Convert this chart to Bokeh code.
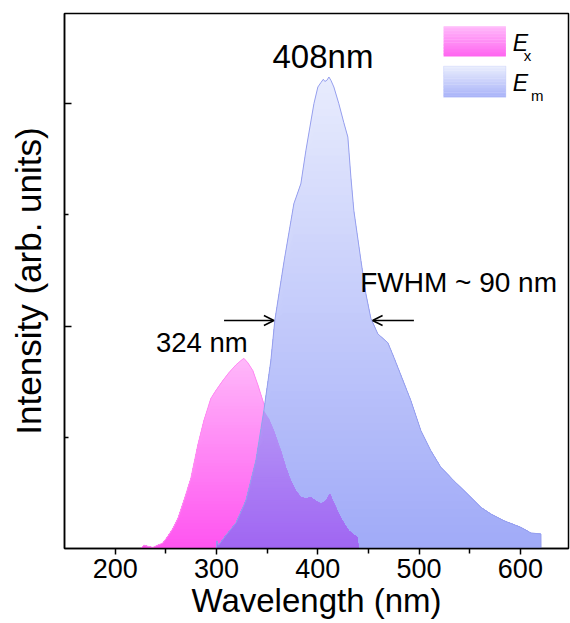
import numpy as np
from bokeh.plotting import figure
from bokeh.models import (Range1d, FixedTicker, Label, Arrow, OpenHead, BoxAnnotation,
                          CustomJSTickFormatter)
from bokeh.embed import file_html
from bokeh.resources import INLINE

# ---------------- data ----------------
ex_wavelength = [225.3, 228.3, 232.2, 237.2, 242.1, 247.1, 252.0, 257.0, 261.9, 267.8,
                 274.7, 281.6, 287.6, 294.5, 299.4, 306.3, 312.2, 319.1, 324.1, 327.1,
                 331.0, 335.9, 340.9, 346.8, 351.7, 356.6, 363.6, 368.5, 373.4, 378.4,
                 383.3, 388.3, 393.2, 398.1, 403.1, 408.0, 412.0, 415.9, 420.8, 425.7,
                 430.7, 434.6, 439.5, 440.0]
ex_intensity = [0.0, 0.03, 0.02, 0.01, 0.03, 0.05, 0.11, 0.18, 0.27, 0.43,
                0.63, 0.93, 1.15, 1.35, 1.42, 1.51, 1.58, 1.65, 1.69, 1.71,
                1.67, 1.60, 1.47, 1.30, 1.17, 1.06, 0.88, 0.73, 0.61, 0.52,
                0.46, 0.45, 0.46, 0.43, 0.40, 0.43, 0.49, 0.41, 0.31, 0.23,
                0.16, 0.13, 0.10, 0.0]

em_wavelength = [300.0, 300.4, 302.0, 309.4, 319.2, 329.0, 338.9, 346.8, 353.7, 357.6,
                 366.5, 376.4, 383.3, 388.3, 396.2, 400.1, 403.1, 405.5, 407.0, 409.0,
                 411.0, 413.0, 415.9, 420.8, 425.7, 429.7, 432.7, 435.6, 442.6, 447.5,
                 452.4, 459.3, 469.2, 475.1, 482.0, 491.9, 501.8, 511.6, 521.5, 534.3,
                 551.1, 561.0, 570.9, 583.7, 600.5, 610.4, 620.3, 620.4]
em_intensity = [0.0, 0.07, 0.03, 0.12, 0.23, 0.43, 0.79, 1.24, 1.69, 2.05,
                2.57, 3.10, 3.28, 3.58, 4.00, 4.15, 4.19, 4.22, 4.20, 4.21,
                4.24, 4.21, 4.15, 4.00, 3.83, 3.70, 3.34, 3.04, 2.59, 2.29,
                2.07, 1.93, 1.85, 1.72, 1.56, 1.33, 1.06, 0.88, 0.73, 0.61,
                0.46, 0.37, 0.31, 0.25, 0.19, 0.14, 0.13, 0.0]

x_ticks = [200, 300, 400, 500, 600]
x_minor = [250, 350, 450, 550]
y_major = [2, 4]
y_minor = [1, 3]

FONT = "Liberation Sans"

p = figure(width=570, height=623, output_backend="svg", toolbar_location=None,
           x_range=Range1d(150, 647.5), y_range=Range1d(0, 4.811),
           min_border_left=64, min_border_right=2, min_border_top=13, min_border_bottom=75)
p.title.visible = False
p.grid.visible = False
p.background_fill_color = "white"
p.border_fill_color = "white"
p.outline_line_color = "black"
p.outline_line_width = 1.5

ex_x = np.array(ex_wavelength); ex_y = np.array(ex_intensity)
em_x = np.array(em_wavelength); em_y = np.array(em_intensity)


def lerp(c0, c1, t):
    return "#%02x%02x%02x" % tuple(int(round(a + (b - a) * t)) for a, b in zip(c0, c1))


def grad_fill(x, y, cfun, n=60):
    top = float(np.max(y))
    edges = np.linspace(0, top, n + 1)
    for k in range(n - 1, -1, -1):
        upper = y if k == n - 1 else np.minimum(y, edges[k + 1])
        p.varea(x=x, y1=np.zeros_like(y), y2=upper, fill_color=cfun((k + 0.5) / n * top),
                fill_alpha=1.0)


EX_BOT, EX_TOP = (255, 84, 240), (255, 184, 250)
EM_BOT, EM_TOP = (160, 170, 248), (232, 236, 253)
ex_top = ex_y.max(); em_top = em_y.max()


def ex_col(h):
    return lerp(EX_BOT, EX_TOP, min(h / ex_top, 1))


def em_col(h):
    return lerp(EM_BOT, EM_TOP, min(h / em_top, 1))


def ov_col(h):
    e = [a + (b - a) * min(h / em_top, 1) for a, b in zip(EM_BOT, EM_TOP)]
    x = [a + (b - a) * min(h / ex_top, 1) for a, b in zip(EX_BOT, EX_TOP)]
    return "#%02x%02x%02x" % tuple(int(round(max(0, min(255, ei + 0.4 * (xi - 255))))) for ei, xi in zip(e, x))


# Ex fill
grad_fill(ex_x, ex_y, ex_col)
p.line(ex_x, ex_y, line_color="#ff8af2", line_width=1)
# Em fill
grad_fill(em_x, em_y, em_col)
# overlap region
xs = np.union1d(ex_x, em_x)
xs = xs[(xs >= em_x[0]) & (xs <= ex_x[-1])]
ov = np.minimum(np.interp(xs, ex_x, ex_y), np.interp(xs, em_x, em_y))
grad_fill(xs, ov, ov_col)
p.line(em_x, em_y, line_color="#969fee", line_width=1)

# axes
xa = p.xaxis[0]
xa.ticker = FixedTicker(ticks=x_ticks, minor_ticks=x_minor)
xa.axis_label = "Wavelength (nm)"
xa.axis_label_text_font = FONT
xa.axis_label_text_font_style = "normal"
xa.axis_label_text_font_size = "33px"
xa.axis_label_text_color = "black"
xa.axis_label_standoff = 1
xa.major_label_text_font = FONT
xa.major_label_text_font_size = "27px"
xa.major_label_text_color = "black"
xa.major_label_standoff = 4
xa.major_tick_out = 6
xa.major_tick_in = 0
xa.minor_tick_out = 5
xa.minor_tick_in = 0
xa.axis_line_width = 1.5
xa.major_tick_line_width = 1.5
xa.minor_tick_line_width = 1.5

ya = p.yaxis[0]
ya.ticker = FixedTicker(ticks=y_major, minor_ticks=y_minor)
ya.formatter = CustomJSTickFormatter(code="return ''")
ya.axis_label = "Intensity (arb. units)"
ya.axis_label_text_font = FONT
ya.axis_label_text_font_style = "normal"
ya.axis_label_text_font_size = "35px"
ya.axis_label_text_color = "black"
ya.axis_label_standoff = 17
ya.major_label_standoff = 0
ya.major_tick_in = 7
ya.major_tick_out = 0
ya.minor_tick_in = 4
ya.minor_tick_out = 0
ya.axis_line_width = 1.5
ya.major_tick_line_width = 1.5
ya.minor_tick_line_width = 1.5

# annotations
p.add_layout(Label(x=405.1, y=4.425, text="408nm", text_align="center", text_baseline="alphabetic",
                   text_font=FONT, text_font_size="33px", text_color="black"))
p.add_layout(Label(x=240.3, y=1.850, text="324 nm", text_baseline="alphabetic", text_font=FONT,
                   text_font_size="27.5px", text_color="black"))
p.add_layout(Label(x=441.9, y=2.389, text="FWHM ~ 90 nm", text_baseline="alphabetic", text_font=FONT,
                   text_font_size="28px", text_color="black"))
p.add_layout(Arrow(x_start=307.5, y_start=2.05, x_end=356.7, y_end=2.05, line_width=1.5,
                   end=OpenHead(size=10, line_width=1.5)))
p.add_layout(Arrow(x_start=494.9, y_start=2.05, x_end=454.1, y_end=2.05, line_width=1.5,
                   end=OpenHead(size=10, line_width=1.5)))

# legend (manual, gradient swatches)
def swatch(x0, x1, y0, y1, c_bot, c_top, border=None, n=20):
    edges = np.linspace(y0, y1, n + 1)
    for k in range(n):
        p.add_layout(BoxAnnotation(left=x0, right=x1, bottom=edges[k], top=edges[k + 1] + (0 if k == n - 1 else 0.004),
                                   fill_color=lerp(c_bot, c_top, (k + 0.5) / n), fill_alpha=1,
                                   line_color=None))
    if border:
        p.add_layout(BoxAnnotation(left=x0, right=x1, bottom=y0, top=y1, fill_color=None,
                                   line_color=border, line_width=1))


swatch(524.2, 585.7, 4.424, 4.697, (255, 100, 240), (255, 186, 250))
swatch(524.2, 585.7, 4.058, 4.337, (168, 178, 248), (234, 238, 253), border="#b4bef8")
p.add_layout(Label(x=592.5, y=4.545, text="E", text_baseline="alphabetic", text_font=FONT,
                   text_font_style="italic", text_font_size="23px", text_color="black"))
p.add_layout(Label(x=603.4, y=4.437, text="x", text_baseline="alphabetic", text_font=FONT,
                   text_font_size="15px", text_color="black"))
p.add_layout(Label(x=592.5, y=4.186, text="E", text_baseline="alphabetic", text_font=FONT,
                   text_font_style="italic", text_font_size="23px", text_color="black"))
p.add_layout(Label(x=610.5, y=4.078, text="m", text_baseline="alphabetic", text_font=FONT,
                   text_font_size="15px", text_color="black"))

open("out.html", "w").write(file_html(p, INLINE))
